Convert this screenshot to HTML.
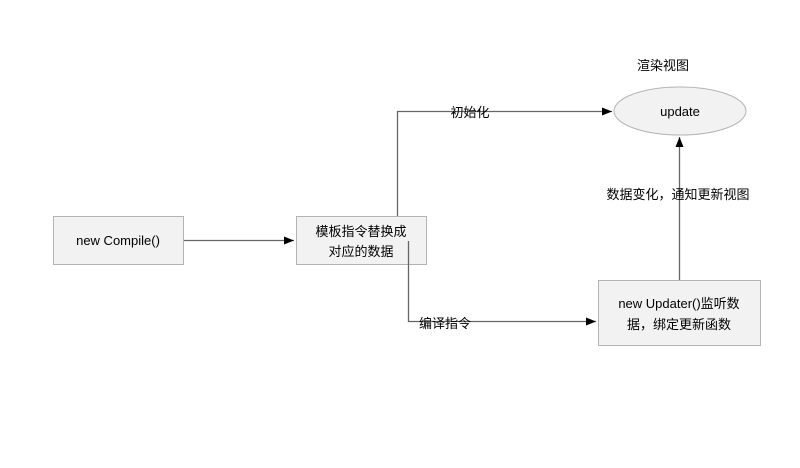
<!DOCTYPE html>
<html><head><meta charset="utf-8"><style>
html,body{margin:0;padding:0;background:#fff;}
svg{display:block;}
text{font-family:"Liberation Sans","Noto Sans CJK SC",sans-serif;font-size:13px;fill:#000;}
</style></head><body>
<svg width="800" height="468" viewBox="0 0 800 468" xmlns="http://www.w3.org/2000/svg">
<defs><marker id="a" markerWidth="10" markerHeight="8" refX="10" refY="4" orient="auto" markerUnits="userSpaceOnUse"><path d="M0,0 L10,4 L0,8 Z" fill="#000"/></marker></defs>
<g fill="#f2f2f2" stroke="#b3b3b3" stroke-width="1">
<rect x="53.5" y="216.5" width="130" height="48"/>
<rect x="296.5" y="216.5" width="130" height="48"/>
<rect x="598.5" y="280.5" width="162" height="65"/>
<ellipse cx="680" cy="111" rx="66" ry="24"/>
</g>
<g stroke="#666" stroke-width="1.3" fill="none">
<path d="M184 240.5 H294" marker-end="url(#a)"/>
<path d="M397.5 216 V111.5 H612" marker-end="url(#a)"/>
<path d="M408.5 241 V321.5 H596" marker-end="url(#a)"/>
<path d="M679.5 280 V137" marker-end="url(#a)"/>
</g>
<text x="118" y="245" text-anchor="middle">new Compile()</text>
<text x="361" y="236" text-anchor="middle">模板指令替换成</text>
<text x="361" y="256" text-anchor="middle">对应的数据</text>
<text x="680" y="116" text-anchor="middle">update</text>
<text x="679" y="308" text-anchor="middle">new Updater()监听数</text>
<text x="679" y="329" text-anchor="middle">据，绑定更新函数</text>
<text x="663" y="70" text-anchor="middle">渲染视图</text>
<text x="470" y="117" text-anchor="middle">初始化</text>
<text x="445" y="328" text-anchor="middle">编译指令</text>
<text x="678" y="199" text-anchor="middle">数据变化，通知更新视图</text>
</svg>
</body></html>
